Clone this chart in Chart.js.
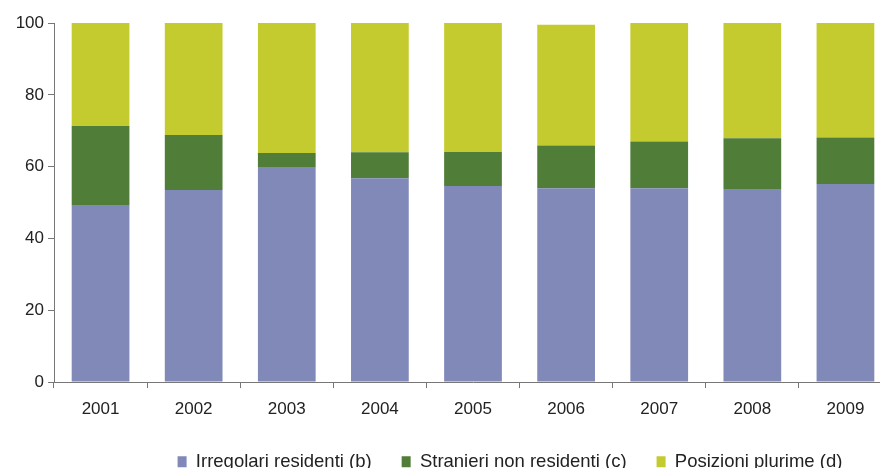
<!DOCTYPE html>
<html>
<head>
<meta charset="utf-8">
<script src="https://cdn.jsdelivr.net/npm/chart.js@4.4.0/dist/chart.umd.min.js"></script>
<style>
  html, body { margin: 0; padding: 0; background: #fff; overflow: hidden; }
  #wrap { position: relative; width: 1020px; height: 481px; }
</style>
</head>
<body>
<div id="wrap"><canvas id="chart"></canvas></div>
<script>
// Data (percent shares per year)
const years = ['2001', '2002', '2003', '2004', '2005', '2006', '2007', '2008', '2009'];
const irregolari = [49.3, 53.5, 59.9, 56.8, 54.6, 54.0, 54.0, 53.8, 55.2];
const stranieri = [22.0, 15.3, 3.9, 7.2, 9.5, 11.9, 13.0, 14.1, 12.9];
const plurime = [28.7, 31.2, 36.2, 36.0, 35.9, 33.6, 33.0, 32.1, 31.9];
const yTicks = [0, 20, 40, 60, 80, 100];
const seriesNames = ['Irregolari residenti (b)', 'Stranieri non residenti (c)', 'Posizioni plurime (d)'];

Chart.defaults.font.family = '"Liberation Sans", Arial, sans-serif';
Chart.defaults.color = '#222';

window.onload = () => {
   renderChart();
};

function renderChart() {
   var ctx = document.getElementById('chart').getContext('2d');
   new Chart(ctx, {
       type: 'bar',
       data: {
           labels: years,
           datasets: [{
               label: seriesNames[0],
               data: irregolari,
               backgroundColor: '#8089b8'
           }, {
               label: seriesNames[1],
               data: stranieri,
               backgroundColor: '#507d38'
           }, {
               label: seriesNames[2],
               data: plurime,
               backgroundColor: '#c3cb2e'
           }]
       },
       options: {
           responsive: true,
           maintainAspectRatio: false,
           animation: false,
           datasets: {
               bar: { categoryPercentage: 1, barPercentage: 0.62, borderWidth: 0 }
           },
           layout: { padding: { top: 23, left: 0, right: 0, bottom: 0 } },
           plugins: {
               tooltip: { enabled: false },
               legend: {
                   position: 'bottom',
                   labels: {
                       boxWidth: 9,
                       boxHeight: 11,
                       padding: 30,
                       font: { size: 18.5 },
                       color: '#222'
                   }
               }
           },
           scales: {
               x: {
                   stacked: true,
                   afterFit: s => { s.height -= 8; },
                   grid: {
                       display: true,
                       drawOnChartArea: false,
                       drawTicks: true,
                       tickLength: 6,
                       color: '#777'
                   },
                   border: { color: '#777' },
                   ticks: { font: { size: 17 }, padding: 11, color: '#222' }
               },
               y: {
                   stacked: true,
                   min: 0,
                   max: 100,
                   afterBuildTicks: s => { s.ticks = yTicks.map(v => ({ value: v })); },
                   afterFit: s => { s.width = 54; },
                   grid: {
                       display: true,
                       drawOnChartArea: false,
                       drawTicks: true,
                       tickLength: 6,
                       color: '#777'
                   },
                   border: { color: '#777' },
                   ticks: { font: { size: 17 }, padding: 4, color: '#222' }
               },
               spacer: {
                   position: 'right',
                   display: true,
                   afterFit: s => { s.width = 128; },
                   grid: { display: false },
                   border: { display: false },
                   ticks: { display: false }
               }
           }
       }
   });
}
</script>
</body>
</html>
